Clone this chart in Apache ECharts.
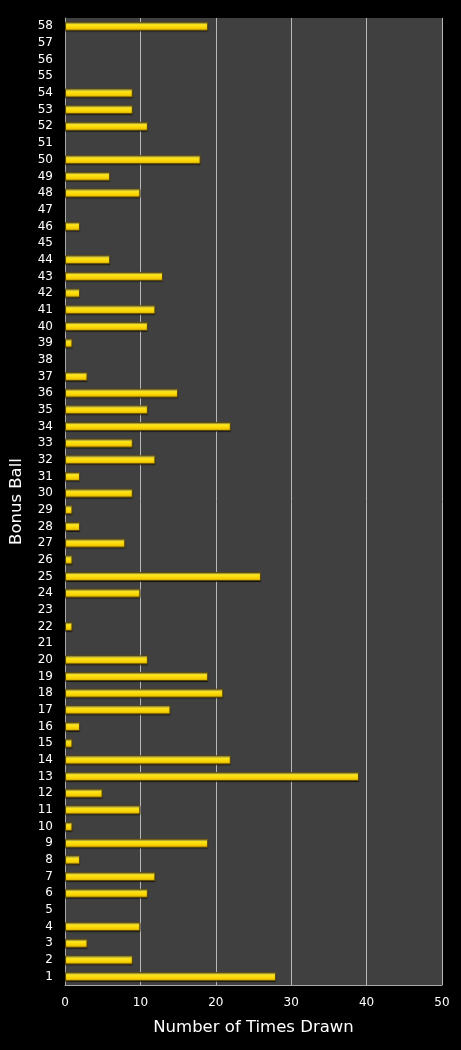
<!DOCTYPE html>
<html>
<head>
<meta charset="utf-8">
<script src="https://cdn.jsdelivr.net/npm/echarts@6/dist/echarts.min.js"></script>
<style>
  html, body { margin: 0; padding: 0; background: #000; }
  #chart { width: 461px; height: 1050px; }
</style>
</head>
<body>
<div id="chart"></div>
<script>
// bonus ball numbers, bottom to top
const balls = Array.from({ length: 58 }, (_, i) => String(i + 1));

// times drawn, index 0 = ball 1
const timesDrawn = [
  28, 9, 3, 10, 0, 11, 12, 2, 19, 1,
  10, 5, 39, 22, 1, 2, 14, 21, 19, 11,
  0, 1, 0, 10, 26, 1, 8, 2, 1, 9,
  2, 12, 9, 22, 11, 15, 3, 0, 1, 11,
  12, 2, 13, 6, 0, 2, 0, 10, 6, 18,
  0, 11, 9, 9, 0, 0, 0, 19
];

const xTicks = { min: 0, max: 50, interval: 10 };

const labelFont = 'DejaVu Sans, Verdana, sans-serif';

const chart = echarts.init(document.getElementById('chart'), null, { renderer: 'canvas' });

chart.setOption({
  backgroundColor: '#000000',
  animation: false,
  grid: {
    left: 65,
    right: 19,
    top: 18,
    bottom: 65,
    show: true,
    backgroundColor: '#404040',
    borderWidth: 0,
  },
  xAxis: {
    type: 'value',
    min: xTicks.min,
    max: xTicks.max,
    interval: xTicks.interval,
    name: 'Number of Times Drawn',
    nameLocation: 'middle',
    nameGap: 34,
    nameTextStyle: { color: '#ffffff', fontSize: 16.5, fontFamily: labelFont },
    axisLine: { show: true, lineStyle: { color: '#a8a8a8', width: 1 } },
    axisTick: { show: false },
    axisLabel: { color: '#ffffff', fontSize: 12, fontFamily: labelFont, margin: 12 },
    splitLine: { show: true, lineStyle: { color: '#b8b8b8', width: 1 } },
  },
  yAxis: {
    type: 'category',
    data: balls,
    name: 'Bonus Ball',
    nameLocation: 'middle',
    nameGap: 40,
    nameRotate: 90,
    nameTextStyle: { color: '#ffffff', fontSize: 16.5, fontFamily: labelFont },
    axisLine: { show: true, lineStyle: { color: '#a8a8a8', width: 1 } },
    axisTick: { show: false },
    axisLabel: { color: '#ffffff', fontSize: 12, fontFamily: labelFont, interval: 0, margin: 12 },
    splitLine: { show: false },
  },
  series: [
    {
      type: 'bar',
      // zero counts draw no bar at all
      data: timesDrawn.map((v) => (v === 0 ? '-' : v)),
      barWidth: 9,
      itemStyle: {
        color: new echarts.graphic.LinearGradient(0, 0, 0, 1, [
          { offset: 0, color: '#fff7a0' },
          { offset: 0.3, color: '#ffe81c' },
          { offset: 0.7, color: '#f7d000' },
          { offset: 1, color: '#c99c00' },
        ]),
        borderColor: '#5c4a0a',
        borderWidth: 1,
        shadowColor: 'rgba(0,0,0,0.45)',
        shadowOffsetY: 1,
        shadowBlur: 1,
      },
    },
  ],
});
</script>
</body>
</html>
